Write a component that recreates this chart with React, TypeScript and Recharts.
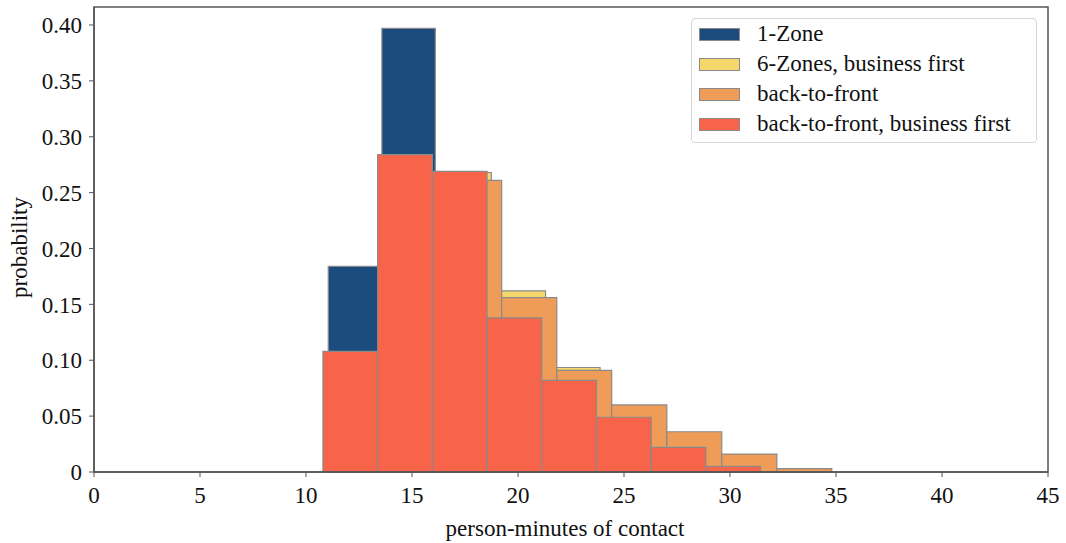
import { ComposedChart, Label, ReferenceArea, XAxis, YAxis } from 'recharts'

// histogram bin edges (n + 1) and probabilities (n) per boarding strategy
const oneZoneEdges = [11.05, 13.58, 16.1, 18.62, 21.14, 23.66]
const oneZoneValues = [0.184, 0.397, 0.25, 0.12, 0.049]

const sixZonesEdges = [11.04, 13.61, 16.17, 18.74, 21.3, 23.87, 26.44, 29.0, 31.57, 34.13]
const sixZonesValues = [0.095, 0.25, 0.268, 0.162, 0.0935, 0.058, 0.034, 0.014, 0.003]

const backToFrontEdges = [11.45, 14.04, 16.64, 19.23, 21.83, 24.42, 27.02, 29.61, 32.21, 34.8]
const backToFrontValues = [0.1, 0.265, 0.261, 0.156, 0.091, 0.06, 0.036, 0.016, 0.003]

const btfBusinessEdges = [10.8, 13.38, 15.96, 18.54, 21.12, 23.7, 26.28, 28.86, 31.44]
const btfBusinessValues = [0.108, 0.284, 0.269, 0.138, 0.082, 0.049, 0.022, 0.005]

const xTicks = [0, 5, 10, 15, 20, 25, 30, 35, 40, 45]
const yTicks = [0, 0.05, 0.1, 0.15, 0.2, 0.25, 0.3, 0.35, 0.4]

const series = [
  { name: '1-Zone', color: '#1b4c7d', edges: oneZoneEdges, values: oneZoneValues },
  { name: '6-Zones, business first', color: '#f5d76c', edges: sixZonesEdges, values: sixZonesValues },
  { name: 'back-to-front', color: '#ee9c58', edges: backToFrontEdges, values: backToFrontValues },
  { name: 'back-to-front, business first', color: '#f8644a', edges: btfBusinessEdges, values: btfBusinessValues },
]

const FONT = "'Liberation Serif', 'DejaVu Serif', serif"
const EDGE = '#8a8a8a'
const AXIS = '#555'
const Y_MAX = 0.4161

function LegendBox() {
  return (
    <div
      style={{
        position: 'absolute',
        left: 691,
        top: 18,
        width: 346,
        height: 125,
        border: '1px solid #d6d6d6',
        borderRadius: 4,
        background: 'rgba(255,255,255,0.85)',
        boxSizing: 'border-box',
        fontFamily: FONT,
        fontSize: 23,
        color: '#111',
      }}
    >
      {series.map((s) => (
        <div key={s.name} style={{ display: 'flex', alignItems: 'center', height: 30 }}>
          <span
            style={{
              display: 'inline-block',
              width: 41,
              height: 13,
              marginLeft: 7,
              marginRight: 17,
              background: s.color,
              border: `1px solid ${EDGE}`,
              boxSizing: 'border-box',
            }}
          />
          <span style={{ lineHeight: '30px', whiteSpace: 'nowrap' }}>{s.name}</span>
        </div>
      ))}
    </div>
  )
}

export default function App() {
  return (
    <div style={{ position: 'absolute', left: 0, top: 0, width: 1066, height: 543, background: '#fff' }}>
      <ComposedChart
        width={1066}
        height={543}
        data={[]}
        margin={{ top: 7, right: 18, left: 0, bottom: 0 }}
        style={{ fontFamily: FONT }}
      >
        <XAxis
          type="number"
          dataKey="x"
          domain={[0, 45]}
          ticks={xTicks}
          allowDataOverflow
          height={71}
          tick={{ fill: '#111', fontSize: 23, fontFamily: FONT }}
          tickSize={5}
          tickMargin={10}
          axisLine={{ stroke: AXIS, strokeWidth: 1.5 }}
          tickLine={{ stroke: AXIS }}
        >
          <Label
            value="person-minutes of contact"
            position="insideBottom"
            offset={7}
            dx={-6}
            style={{ fill: '#111', fontSize: 23, fontFamily: FONT }}
          />
        </XAxis>
        <YAxis
          type="number"
          domain={[0, Y_MAX]}
          ticks={yTicks}
          allowDataOverflow
          width={94}
          tick={{ fill: '#111', fontSize: 23, fontFamily: FONT }}
          tickFormatter={(v: number) => (v === 0 ? '0' : v.toFixed(2))}
          tickSize={5}
          tickMargin={7}
          axisLine={{ stroke: AXIS, strokeWidth: 1.5 }}
          tickLine={{ stroke: AXIS }}
        >
          <Label
            content={({ viewBox }: any) => {
              const cx = 19
              const cy = viewBox.y + viewBox.height / 2 + 8
              return (
                <text
                  x={cx}
                  y={cy}
                  transform={`rotate(-90 ${cx} ${cy})`}
                  textAnchor="middle"
                  dominantBaseline="central"
                  fill="#111"
                  fontSize={23}
                  fontFamily={FONT}
                >
                  probability
                </text>
              )
            }}
          />
        </YAxis>
        {series.map((s) =>
          s.values.map((v, i) => (
            <ReferenceArea
              key={`${s.name}-${i}`}
              x1={s.edges[i]}
              x2={s.edges[i + 1]}
              y1={0}
              y2={v}
              fill={s.color}
              fillOpacity={1}
              stroke={EDGE}
              strokeWidth={1.2}
            />
          )),
        )}
        <ReferenceArea
          x1={0}
          x2={45}
          y1={0}
          y2={Y_MAX}
          fill="none"
          stroke={AXIS}
          strokeWidth={1.5}
        />
      </ComposedChart>
      <LegendBox />
    </div>
  )
}
